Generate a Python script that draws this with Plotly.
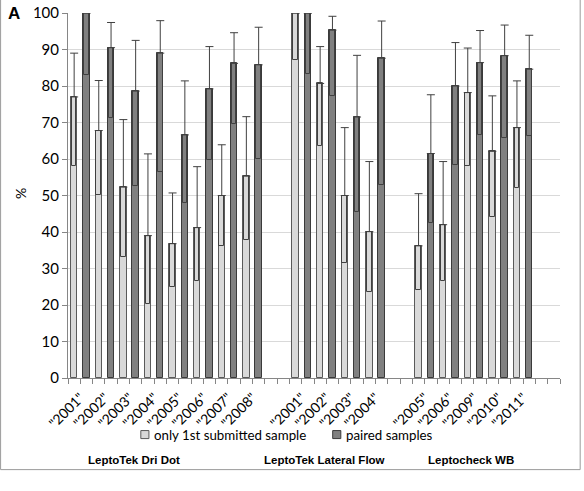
import plotly.graph_objects as go

# ---- data ----
groups = ["LeptoTek Dri Dot", "LeptoTek Lateral Flow", "Leptocheck WB"]
group_years = [
    ["2001", "2002", "2003", "2004", "2005", "2006", "2007", "2008"],
    ["2001", "2002", "2003", "2004"],
    ["2005", "2006", "2009", "2010", "2011"],
]
light_val = [77, 67.8, 52.3, 39, 36.8, 41.2, 50, 55.3,
             100, 80.7, 50, 40.1,
             36.2, 42, 78.2, 62.1, 68.6]
light_hi = [89, 81.5, 70.8, 61.4, 50.7, 57.9, 63.9, 71.6,
            100, 90.8, 68.6, 59.3,
            50.5, 59.3, 90.4, 77.3, 81.4]
light_lo = [58, 50.2, 33.1, 20.3, 24.8, 26.5, 36.1, 37.7,
            87.2, 63.7, 31.6, 23.5,
            24.1, 26.5, 58.1, 44.1, 52]
paired_val = [100, 90.5, 78.6, 89, 66.6, 79.2, 86.2, 85.8,
              100, 95.3, 71.5, 87.6,
              61.5, 80, 86.4, 88.3, 84.6]
paired_hi = [100, 97.4, 92.5, 97.9, 81.4, 90.8, 94.6, 96.1,
             100, 99.1, 88.4, 97.8,
             77.6, 91.9, 95.2, 96.7, 93.9]
paired_lo = [83.1, 71.1, 52.5, 56.5, 48, 59.6, 69.5, 60,
             83.2, 77.3, 45.4, 53,
             42.6, 58.4, 66.6, 65.8, 66.4]
series_names = ["only 1st submitted sample", "paired samples"]
y_ticks = [0, 10, 20, 30, 40, 50, 60, 70, 80, 90, 100]

# ---- category positions (one empty slot between groups) ----
cat_pos, cat_text = [], []
pos = 0
for gi, yrs in enumerate(group_years):
    for y in yrs:
        cat_pos.append(pos)
        cat_text.append('"' + y + '"')
        pos += 1
    pos += 1
n_slots = pos - 1

off = 0.25
bw = 0.26
light_x = [c - off for c in cat_pos]
paired_x = [c + off for c in cat_pos]

ERR = "#404040"
LIGHT_FILL, LIGHT_LINE = "#d9d9d9", "#5a5a5a"
DARK_FILL, DARK_LINE = "#808080", "#3a3a3a"
fig = go.Figure()


def add_series(xs, vals, his, los, fill, outline, name):
    fig.add_trace(go.Bar(
        x=xs, y=vals, width=bw, name=name, showlegend=False,
        marker=dict(color=fill, line=dict(color=outline, width=1)),
        error_y=dict(type="data", symmetric=False,
                     array=[h - v for h, v in zip(his, vals)],
                     arrayminus=[0] * len(vals),
                     color=ERR, thickness=1, width=4),
    ))
    # lower part of the interval drawn as a box inside the bar
    fig.add_trace(go.Bar(
        x=xs, y=[v - l for v, l in zip(vals, los)], base=los,
        width=bw * 0.72, showlegend=False, hoverinfo="skip",
        marker=dict(color="rgba(0,0,0,0)", line=dict(color=ERR, width=1)),
    ))


add_series(light_x, light_val, light_hi, light_lo, LIGHT_FILL, LIGHT_LINE, series_names[0])
add_series(paired_x, paired_val, paired_hi, paired_lo, DARK_FILL, DARK_LINE, series_names[1])

fig.update_layout(
    width=584, height=491,
    margin=dict(l=68, r=24, t=13, b=113, autoexpand=False),
    paper_bgcolor="white", plot_bgcolor="white",
    barmode="overlay", bargap=0,
    font=dict(family="Lato", size=13, color="#000000"),
    showlegend=False,
)
fig.update_xaxes(
    range=[-0.5, n_slots + 0.5], automargin=False,
    tickmode="array", tickvals=cat_pos, ticktext=cat_text, tickangle=-45,
    tickfont=dict(family="Lato", size=14),
    showgrid=False, zeroline=False,
    showline=True, linecolor="#868686", linewidth=1,
    ticks="outside", ticklen=5, tickcolor="#868686",
    minor=dict(tickmode="linear", tick0=-0.5, dtick=0.5, ticks="outside",
               ticklen=5, tickcolor="#868686", showgrid=False),
)
fig.update_yaxes(
    range=[0, 100], tickvals=y_ticks, automargin=False,
    tickfont=dict(family="Lato", size=15),
    showgrid=True, gridcolor="#d9d9d9", gridwidth=1,
    zeroline=False, showline=True, linecolor="#868686", linewidth=1,
    ticks="outside", ticklen=5, tickcolor="#868686",
)

# legend (square swatches + labels)
leg_y = -0.155
leg_items = [(0.148, series_names[0], LIGHT_FILL, LIGHT_LINE),
             (0.538, series_names[1], DARK_FILL, DARK_LINE)]
for lx, txt, fc, lc in leg_items:
    fig.add_shape(type="rect", xref="paper", yref="paper",
                  x0=lx, x1=lx + 0.0165, y0=leg_y - 0.011, y1=leg_y + 0.011,
                  line=dict(color=lc, width=1), fillcolor=fc)
    fig.add_annotation(text=txt, xref="paper", yref="paper", x=lx + 0.023, y=leg_y,
                       showarrow=False, xanchor="left", yanchor="middle",
                       font=dict(family="Lato", size=13.3, color="#000"))

# group labels
group_x = [0.135, 0.522, 0.82]
for g, gx in zip(groups, group_x):
    fig.add_annotation(text="<b>" + g + "</b>", xref="paper", yref="paper",
                       x=gx, y=-0.226, showarrow=False, xanchor="center", yanchor="middle",
                       font=dict(family="Liberation Sans", size=11.5, color="#000"))

# panel letter and axis title
fig.add_annotation(text="<b>A</b>", xref="paper", yref="paper", x=-0.126, y=1.0,
                   showarrow=False, xanchor="left", yanchor="middle",
                   font=dict(family="Liberation Sans", size=17, color="#000"))
fig.add_annotation(text="%", xref="paper", yref="paper", x=-0.097, y=0.505,
                   showarrow=False, textangle=-90, xanchor="center", yanchor="middle",
                   font=dict(family="Lato", size=14, color="#000"))

# chart frame
fig.add_shape(type="rect", xref="paper", yref="paper",
              x0=-0.137, x1=1.041, y0=-0.251, y1=1.04,
              line=dict(color="#9a9a9a", width=1), fillcolor="rgba(0,0,0,0)", layer="below")

fig.write_html("out.html")
